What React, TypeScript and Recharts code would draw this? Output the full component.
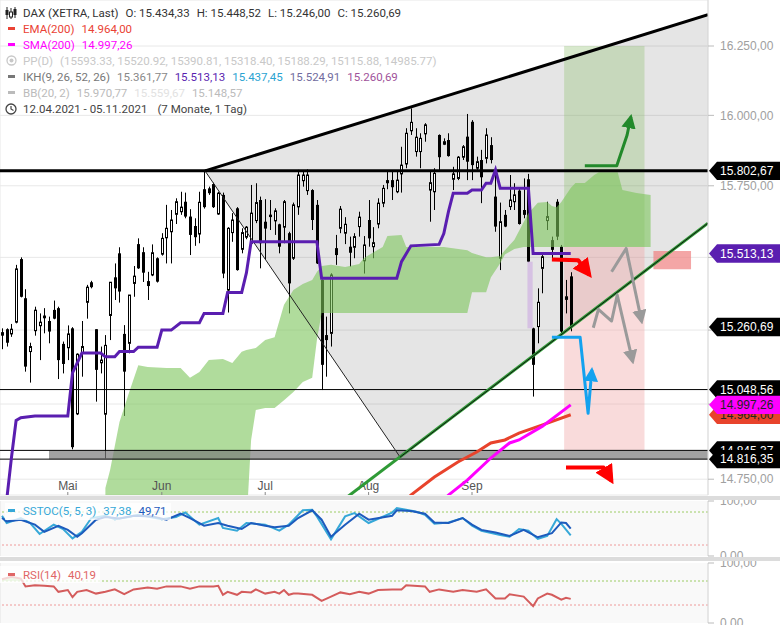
import React from 'react';
import {
  ComposedChart, LineChart, Line, Bar, Area, XAxis, YAxis, CartesianGrid, ReferenceLine, ReferenceArea,
} from 'recharts';

// ---------------- axes ----------------
const X_DOMAIN: [number, number] = [-0.4255, 150.21];
const Y_DOMAIN: [number, number] = [14698, 16418];
const yTicks = [14750, 15000, 15250, 15500, 15750, 16000, 16250];
// tick labels that sit fully behind a price badge in the reference
const coveredTickLabels = [15000, 15250, 15500];
const monthTicks = [14, 34, 56, 78, 100];
const monthLabels = ['Mai', 'Jun', 'Jul', 'Aug', 'Sep'];

// ---------------- candles (trading-day index 0..121) ----------------
const opens = [
  15243, 15253, 15237, 15277, 15494, 15359, 15177, 15248, 15265, 15292,
  15281, 15319, 15325, 15203, 15190, 15256, 14967, 15171, 15345, 15414,
  15253, 15139, 14966, 15300, 15431, 15514, 15237, 15205, 15410, 15546,
  15518, 15418, 15439, 15497, 15511, 15568, 15589, 15650, 15659, 15694,
  15642, 15609, 15581, 15738, 15741, 15756, 15651, 15718, 15387, 15586,
  15671, 15528, 15570, 15549, 15628, 15700, 15624, 15642, 15627, 15615,
  15605, 15584, 15497, 15676, 15768, 15733, 15735, 15683, 15422, 15233,
  15239, 15532, 15601, 15584, 15537, 15535, 15607, 15488, 15630, 15537,
  15616, 15689, 15770, 15770, 15729, 15792, 15827, 15945, 15871, 15871,
  15934, 15735, 15729, 15930, 15897, 15912, 15773, 15776, 15851, 15924,
  15977, 15812, 15841, 15847, 15894, 15712, 15497, 15648, 15677, 15694,
  15733, 15665, 15773, 15256, 15262, 15462, 15628, 15560, 15694, 15537,
  15355, 15434.33,
];
const highs = [
  15256, 15256, 15271, 15474, 15500, 15390, 15207, 15330, 15307, 15325,
  15296, 15351, 15330, 15211, 15266, 15260, 15171, 15281, 15405, 15419,
  15253, 15194, 15233, 15414, 15479, 15535, 15267, 15370, 15470, 15566,
  15535, 15450, 15545, 15500, 15584, 15683, 15665, 15706, 15729, 15726,
  15668, 15636, 15729, 15802.67, 15747, 15761, 15729, 15726, 15605, 15654,
  15675, 15601, 15609, 15753, 15759, 15712, 15703, 15700, 15671, 15617,
  15700, 15589, 15691, 15806, 15803, 15808, 15738, 15700, 15424, 15296,
  15445, 15578, 15679, 15640, 15572, 15584, 15659, 15574, 15700, 15605,
  15706, 15753, 15800, 15800, 15800, 15888, 15954, 16025, 15954, 15936,
  15972, 15800, 15812, 15932, 15918, 15936, 15817, 15855, 15894, 16005,
  15983, 15853, 15877, 15954, 15922, 15817, 15691, 15665, 15788, 15759,
  15741, 15776, 15792, 15258, 15393, 15508, 15694, 15572, 15703, 15543,
  15422, 15448.52,
];
const lows = [
  15185, 15194, 15227, 15273, 15362, 15109, 15072, 15231, 15148, 15239,
  15205, 15287, 15084, 15103, 15148, 14849, 14963, 15092, 15289, 15393,
  15008, 15103, 14819, 15216, 15353, 15344, 14960, 15171, 15364, 15460,
  15415, 15353, 15435, 15413, 15506, 15479, 15479, 15616, 15648, 15636,
  15508, 15540, 15549, 15670, 15718, 15672, 15648, 15428, 15310, 15554,
  15454, 15514, 15563, 15546, 15619, 15462, 15491, 15595, 15578, 15514,
  15549, 15307, 15491, 15648, 15747, 15718, 15595, 15477, 15047, 15092,
  15194, 15474, 15584, 15546, 15468, 15497, 15572, 15444, 15537, 15497,
  15601, 15675, 15738, 15700, 15724, 15726, 15812, 15930, 15853, 15812,
  15906, 15624, 15665, 15806, 15894, 15853, 15735, 15770, 15841, 15770,
  15770, 15806, 15689, 15829, 15829, 15589, 15456, 15605, 15665, 15665,
  15614, 15636, 15482, 15025, 15205, 15376, 15595, 15497, 15560, 15239,
  15307, 15246,
];
const closes = [
  15231, 15207, 15253, 15460, 15364, 15126, 15194, 15318, 15277, 15298,
  15245, 15289, 15148, 15135, 15237, 14856, 15168, 15194, 15397, 15397,
  15115, 15148, 15198, 15414, 15393, 15382, 15109, 15370, 15435, 15462,
  15447, 15401, 15516, 15416, 15566, 15601, 15630, 15694, 15675, 15642,
  15578, 15570, 15692, 15675, 15724, 15675, 15724, 15444, 15601, 15630,
  15456, 15586, 15605, 15654, 15691, 15549, 15600, 15647, 15662, 15537,
  15694, 15410, 15683, 15788, 15788, 15788, 15630, 15479, 15132, 15216,
  15439, 15508, 15668, 15615, 15516, 15572, 15640, 15543, 15566, 15551,
  15689, 15741, 15759, 15745, 15770, 15823, 15936, 15975, 15922, 15918,
  15966, 15761, 15794, 15851, 15906, 15855, 15792, 15851, 15888, 15835,
  15823, 15835, 15780, 15930, 15841, 15607, 15624, 15607, 15700, 15718,
  15616, 15648, 15485, 15132, 15345, 15502, 15642, 15526, 15572, 15245,
  15364, 15260.69,
];

// ---------------- Ichimoku ----------------
const kijunIdx = [1, 2, 3, 4, 7, 14, 15, 17, 21, 22, 24, 25, 28, 29, 33, 34, 36, 38, 42, 43, 47, 48, 51, 52, 53, 67, 68, 84, 85, 87, 93, 94, 95, 96, 99, 100, 102, 103, 104, 105, 106, 112, 113, 121];
const kijunVal = [14682, 14820, 14945, 14954, 14960, 14960, 15105, 15172, 15172, 15159, 15159, 15177, 15177, 15192, 15192, 15250, 15250, 15275, 15275, 15307, 15307, 15379, 15379, 15446, 15554, 15554, 15428, 15428, 15485, 15540, 15545, 15583, 15660, 15724, 15724, 15735, 15735, 15759, 15759, 15806, 15741, 15741, 15513, 15513.13];

const cloudIdx = [22, 23, 25, 27, 29, 31, 35, 38, 40, 42, 44, 47, 49, 51, 52, 53, 54, 56, 58, 60, 62, 64, 66, 67, 68, 70, 73, 76, 77, 81, 82, 85, 86, 94, 99, 100, 103, 104, 106, 107, 109, 111, 112, 114, 116, 117, 118, 119, 121, 122, 124, 126, 127, 131, 132, 135, 138];
const cloudLow = [
  14600, 14600, 14600, 14600, 14600, 14600, 14600, 14600, 14600, 14600, 14600, 14600, 14600, 14600, 14600,
  14880, 14980, 14987, 14987, 15013, 15040, 15074, 15088, 15216, 15308,
  15308, 15308, 15308, 15308, 15308, 15308, 15308, 15308, 15308, 15308,
  15380, 15380, 15430, 15480, 15510, 15529, 15536, 15536, 15536, 15536,
  15536, 15536, 15536, 15536, 15536, 15536, 15536, 15536, 15536, 15536, 15536, 15536,
];
const cloudHigh = [
  14721, 14780, 14940, 15037, 15131, 15125, 15121, 15121, 15088, 15108,
  15148, 15152, 15138, 15176, 15182, 15186, 15189, 15216, 15226, 15337,
  15387, 15408, 15422, 15449, 15470, 15474, 15467, 15477, 15498, 15536,
  15574, 15578, 15536, 15536, 15525, 15515, 15500, 15500, 15505, 15525,
  15560, 15623, 15654, 15690, 15693, 15679, 15675, 15693, 15742, 15760,
  15760, 15788, 15798, 15798, 15735, 15725, 15718,
];

// ---------------- moving averages ----------------
const emaIdx = [85, 87, 92, 97, 101, 104, 107, 110, 115, 121];
const emaVal = [14662, 14698, 14757, 14807, 14840, 14870, 14880, 14903, 14930, 14964.0];
const smaIdx = [93, 95, 99, 104, 108, 110, 115, 121];
const smaVal = [14665, 14698, 14747, 14820, 14870, 14880, 14926, 14997.26];

// ---------------- drawings (index, price) ----------------
const triIdx = [43.2, 84.7, 150.21];
const triLow = [15802.67, 14823, 15619];
const triHigh = [15802.67, 16017.8, 16364];
const upperTrendIdx = [43.2, 150.21];
const upperTrendVal = [15802.67, 16364];
const diagIdx = [43.2, 84.7];
const diagVal = [15802.67, 14823];
const lowerTrendIdx = [72.6, 150.21];
const lowerTrendVal = [14681.6, 15619];
const lowerCoreIdx = [84.7, 150.21];
const lowerCoreVal = [14823, 15619];

const greenArrowIdx = [124.0, 130.8, 133.0, 133.8];
const greenArrowVal = [15821, 15821, 15930, 15995];
const redArrowTopIdx = [117.0, 122.6, 125.0];
const redArrowTopVal = [15493, 15490, 15439];
const redArrowBotIdx = [120.0, 128.0, 129.7];
const redArrowBotVal = [14789, 14789, 14744];
const blueArrowIdx = [117.0, 123.0, 124.7, 125.5];
const blueArrowVal = [15226, 15226, 14969, 15115];
const grayArrowAIdx = [129.7, 132.8, 136.1];
const grayArrowAVal = [15450, 15531, 15279];
const grayArrowBIdx = [125.8, 126.9, 129.7, 130.9, 134.2];
const grayArrowBVal = [15258, 15321, 15281, 15370, 15143];

// boxes: [x1, x2, y1, y2]
const greenBox = [119.6, 136.7, 15537, 16250];
const redBox = [119.6, 136.7, 14845.37, 15537];
const salmonBox = [138.6, 146.6, 15459, 15522];
const gapBox = [111.8, 112.9, 15256, 15485];
const supportBand = [10.0, 150.2, 14816.35, 14845.37];

const hLineValues = [15802.67, 15048.56, 14845.37, 14816.35];
const badgeValues = [15802.67, 15513.13, 15260.69, 15048.56, 14964.0, 14997.26, 14845.37, 14816.35];

// ---------------- indicators ----------------
const stochKIdx = [0, 1, 4, 6, 8, 11, 13, 15, 17, 19, 22, 24, 27, 29, 34, 37, 39, 42, 46, 47, 50, 52, 56, 59, 61, 64, 66, 67, 70, 73, 75, 78, 83, 84, 88, 90, 92, 95, 98, 100, 102, 106, 108, 110, 112, 114, 116, 118, 119, 121];
const stochKVal = [73, 60, 69, 60, 40, 57, 49, 32, 44, 69, 73, 67, 71, 75, 67, 71, 79, 57, 69, 51, 46, 60, 57, 46, 57, 83, 84, 72, 30.5, 72, 78, 60, 79, 87, 81, 75, 58.5, 61, 69, 55, 46, 38, 35, 49, 46, 31, 36.5, 67, 58.5, 37.38];
const stochDIdx = [0, 1, 4, 7, 9, 12, 14, 16, 17, 20, 22, 25, 28, 32, 35, 38, 40, 43, 46, 48, 51, 53, 56, 58, 61, 63, 66, 68, 70, 73, 76, 78, 83, 84, 87, 90, 92, 95, 98, 100, 102, 105, 108, 111, 114, 117, 119, 120, 121];
const stochDVal = [69, 63, 66, 57, 44, 55, 47.5, 35, 41.5, 66, 71, 68, 73, 72, 66, 77, 69, 55, 60, 55, 49, 60, 55, 52.5, 55, 69, 83, 66, 35, 57, 77, 66, 73, 83, 82, 77, 61, 60, 69, 57, 47.5, 42.6, 36.5, 47.5, 34, 41.5, 61, 60, 49.71];
const rsiIdx = [0, 2, 4, 5, 7, 9, 11, 12, 14, 15, 16, 18, 20, 22, 24, 26, 28, 31, 33, 35, 38, 40, 42, 45, 46, 47, 48, 50, 51, 53, 54, 56, 58, 59, 60, 61, 62, 63, 66, 68, 70, 72, 74, 76, 78, 80, 83, 85, 86, 90, 91, 93, 96, 98, 101, 103, 105, 107, 108, 111, 113, 114, 116, 117, 119, 120, 121];
const rsiVal = [73, 77, 74, 61, 63, 62, 61, 52, 55, 43, 52, 55, 49, 52, 56, 48, 56, 59, 57, 61, 61, 57, 61, 61, 62, 47, 52, 47, 52, 51, 56, 49, 52, 49, 55, 47, 49, 49, 47, 37, 44, 51, 48, 52, 49, 55, 56, 56, 63, 61, 52, 56, 52, 55, 52, 56, 41, 41, 48, 44, 28, 41, 49, 47, 39, 42, 40.19];
// overbought zone of the RSI at the left edge (between the 70 level and the line)
const rsiObIdx = [0, 2, 4, 4.2];
const rsiObLow = [70, 70, 70, 70];
const rsiObHigh = [73, 77, 74, 70];

// ---------------- helpers ----------------
const fmt = (v: number) => {
  const [a, b] = v.toFixed(2).split('.');
  return a.replace(/\B(?=(\d{3})+(?!\d))/g, '.') + ',' + b;
};
const pts = (idx: number[], vals: number[]) => idx.map((i, k) => ({ i, v: vals[k] }));
const rangePts = (idx: number[], lo: number[], hi: number[]) => idx.map((i, k) => ({ i, r: [lo[k], hi[k]] }));

const candleData = opens.map((o, i) => ({ i, o, h: highs[i], l: lows[i], c: closes[i] }));
const last = opens.length - 1;

const FONT = '"Liberation Sans", Arial, sans-serif';
const LEG_FONT = 'Roboto, "Liberation Sans", Arial, sans-serif';

function CandleShape(props: any) {
  const { x, y, width, height, payload } = props;
  if (!payload || x == null || y == null) return null;
  const top = Math.min(y, y + height);
  const hh = Math.abs(height);
  const cx = Math.round(x + width / 2) + 0.5;
  const lh = Math.log(payload.h);
  const ll = Math.log(payload.l);
  const span = lh - ll;
  const py = (v: number) => (span === 0 ? top : top + (hh * (lh - Math.log(v))) / span);
  const yo = py(payload.o);
  const yc = py(payload.c);
  const up = payload.c >= payload.o;
  const bTop = Math.min(yo, yc);
  const bH = Math.max(Math.abs(yo - yc), 1);
  return (
    <g>
      <line x1={cx} x2={cx} y1={top} y2={top + hh} stroke="#000" strokeWidth={1} />
      {up ? (
        <rect x={cx - 1} y={bTop} width={2} height={bH} fill="#fff" stroke="#000" strokeWidth={1} />
      ) : (
        <rect x={cx - 1.5} y={bTop} width={3} height={bH} fill="#000" />
      )}
    </g>
  );
}

function PriceTick(props: any) {
  const { x, y, payload } = props;
  if (!payload || coveredTickLabels.includes(payload.value)) return null;
  return (
    <text x={x} y={y} dy="0.355em" textAnchor="start" fill="#a0a0a0" fontSize={12} fontFamily={FONT}>
      {fmt(payload.value)}
    </text>
  );
}

function Badge(props: any) {
  const vb = props.viewBox || {};
  const y = (vb.y || 0) + (vb.height || 0) / 2;
  const x0 = (vb.x || 0) + (vb.width || 0);
  return (
    <g>
      <path d={`M${x0 + 1},${y} L${x0 + 9},${y - 9.2} L780,${y - 9.2} L780,${y + 9.2} L${x0 + 9},${y + 9.2} Z`} fill={props.bg} />
      <text x={x0 + 12} y={y + 4.3} fill={props.fg} fontSize={12} fontFamily={FONT}>{props.text}</text>
    </g>
  );
}

function MonthLabel(props: any) {
  const vb = props.viewBox || {};
  const x = vb.x || 0;
  const bottom = (vb.y || 0) + (vb.height || 0);
  return (
    <g>
      <text x={x} y={bottom - 5} textAnchor="middle" fill="#555" fontSize={12} fontFamily={FONT}>{props.text}</text>
      <line x1={x} x2={x} y1={bottom - 3} y2={bottom} stroke="#888" strokeWidth={1} />
    </g>
  );
}

const badgeStyles = [
  { bg: '#000', fg: '#fff' },
  { bg: '#5a1eb0', fg: '#fff' },
  { bg: '#000', fg: '#fff' },
  { bg: '#000', fg: '#fff' },
  { bg: '#e8432c', fg: '#222' },
  { bg: '#ff00ff', fg: '#222' },
  { bg: '#000', fg: '#fff' },
  { bg: '#000', fg: '#fff' },
];
const hLineWidths = [3, 1, 1, 1];

const arrowDefs = [
  { id: 'ahGreen', color: '#22892a' },
  { id: 'ahRed', color: '#ff0000' },
  { id: 'ahBlue', color: '#14a2ef' },
  { id: 'ahGray', color: '#9a9a9a' },
];

const lineCommon = { dot: false, activeDot: false, isAnimationActive: false, legendType: 'none' as const };

function Dash({ color }: { color: string }) {
  return <span style={{ display: 'inline-block', width: 7, height: 3, background: color, marginRight: 8, verticalAlign: 'middle', position: 'relative', top: -1 }} />;
}

export default function App() {
  const rowStyle = (top: number): React.CSSProperties => ({
    position: 'absolute', left: 8, top, height: 16, lineHeight: '16px', whiteSpace: 'nowrap', fontSize: 11.5, fontFamily: LEG_FONT,
  });
  const gap = { marginLeft: 7 };
  const subY = {
    orientation: 'right' as const, width: 72, domain: [0, 100] as [number, number], ticks: [0, 100], interval: 0 as const,
    tickFormatter: fmt, tick: { fill: '#a0a0a0', fontSize: 12 }, tickLine: { stroke: '#bbb' }, axisLine: { stroke: '#ddd' },
    tickSize: 6, tickMargin: 6,
  };
  return (
    <div style={{ position: 'absolute', left: 0, top: 0, width: 780, height: 625, overflow: 'hidden', background: '#fff', fontFamily: FONT }}>
      {/* main price panel */}
      <div style={{ position: 'absolute', left: 0, top: 0 }}>
        <ComposedChart width={780} height={496} data={candleData} margin={{ top: 0, right: 0, bottom: 0, left: 0 }}>
          <defs>
            {arrowDefs.map((a) => (
              <marker key={a.id} id={a.id} viewBox="0 0 10 10" refX="8" refY="5" markerWidth="4.8" markerHeight="4.8" orient="auto" markerUnits="strokeWidth">
                <path d="M0,0 L10,5 L0,10 z" fill={a.color} />
              </marker>
            ))}
          </defs>
          <CartesianGrid stroke="#e8e8e8" />
          <XAxis type="number" dataKey="i" domain={X_DOMAIN} allowDataOverflow ticks={monthTicks} tick={false} tickLine={false} axisLine={false} height={1} />
          <YAxis
            orientation="right" width={72} scale="log" domain={Y_DOMAIN} allowDataOverflow ticks={yTicks} interval={0}
            tick={<PriceTick />} tickLine={{ stroke: '#bbb' }}
            axisLine={{ stroke: '#ddd' }} tickSize={6} tickMargin={6}
          />
          <Area data={rangePts(triIdx, triLow, triHigh)} dataKey="r" type="linear" stroke="none" fill="#000" fillOpacity={0.1} zIndex={10} {...lineCommon} />
          <ReferenceArea x1={greenBox[0]} x2={greenBox[1]} y1={greenBox[2]} y2={greenBox[3]} fill="#8fc070" fillOpacity={0.35} stroke="none" zIndex={20} />
          <ReferenceArea x1={redBox[0]} x2={redBox[1]} y1={redBox[2]} y2={redBox[3]} fill="#f0a0a0" fillOpacity={0.38} stroke="none" zIndex={20} />
          <Bar dataKey={(d: any) => [d.l, d.h]} shape={(p: any) => <CandleShape {...p} />} barSize={3} isAnimationActive={false} zIndex={30} legendType="none" />
          <ReferenceArea x1={gapBox[0]} x2={gapBox[1]} y1={gapBox[2]} y2={gapBox[3]} fill="#d4bde2" fillOpacity={0.9} stroke="none" zIndex={35} />
          <Area data={rangePts(cloudIdx, cloudLow, cloudHigh)} dataKey="r" type="linear" stroke="none" fill="#7cc45a" fillOpacity={0.6} zIndex={40} {...lineCommon} />
          <ReferenceArea x1={salmonBox[0]} x2={salmonBox[1]} y1={salmonBox[2]} y2={salmonBox[3]} fill="#f08080" fillOpacity={0.7} stroke="none" zIndex={45} />
          <ReferenceArea x1={supportBand[0]} x2={supportBand[1]} y1={supportBand[2]} y2={supportBand[3]} fill="#7a7a7a" fillOpacity={0.7} stroke="none" zIndex={50} />
          {hLineValues.map((v, k) => (
            <ReferenceLine key={'h' + k} y={v} stroke="#000" strokeWidth={hLineWidths[k]} zIndex={60} />
          ))}
          {monthTicks.map((m, k) => (
            <ReferenceLine key={'m' + k} x={m} stroke="none" label={<MonthLabel text={monthLabels[k]} />} zIndex={60} />
          ))}
          <Line data={pts(diagIdx, diagVal)} dataKey="v" stroke="#222" strokeWidth={1} zIndex={70} {...lineCommon} />
          <Line data={pts(upperTrendIdx, upperTrendVal)} dataKey="v" stroke="#000" strokeWidth={3} zIndex={70} {...lineCommon} />
          <Line data={pts(lowerTrendIdx, lowerTrendVal)} dataKey="v" stroke="#2f9a36" strokeWidth={3} zIndex={70} {...lineCommon} />
          <Line data={pts(lowerCoreIdx, lowerCoreVal)} dataKey="v" stroke="#111" strokeWidth={1} zIndex={71} {...lineCommon} />
          <Line data={pts(kijunIdx, kijunVal)} dataKey="v" stroke="#5a1eb0" strokeWidth={3} zIndex={72} {...lineCommon} />
          <Line data={pts(emaIdx, emaVal)} dataKey="v" stroke="#e8432c" strokeWidth={3} zIndex={72} {...lineCommon} />
          <Line data={pts(smaIdx, smaVal)} dataKey="v" stroke="#ff00ff" strokeWidth={3} zIndex={72} {...lineCommon} />
          <Line data={pts(greenArrowIdx, greenArrowVal)} dataKey="v" stroke="#22892a" strokeWidth={3} strokeLinejoin="round" markerEnd="url(#ahGreen)" zIndex={73} {...lineCommon} />
          <Line data={pts(redArrowTopIdx, redArrowTopVal)} dataKey="v" stroke="#ff0000" strokeWidth={4} strokeLinejoin="round" markerEnd="url(#ahRed)" zIndex={73} {...lineCommon} />
          <Line data={pts(redArrowBotIdx, redArrowBotVal)} dataKey="v" stroke="#ff0000" strokeWidth={4} strokeLinejoin="round" markerEnd="url(#ahRed)" zIndex={73} {...lineCommon} />
          <Line data={pts(blueArrowIdx, blueArrowVal)} dataKey="v" stroke="#14a2ef" strokeWidth={3} strokeLinejoin="round" markerEnd="url(#ahBlue)" zIndex={73} {...lineCommon} />
          <Line data={pts(grayArrowAIdx, grayArrowAVal)} dataKey="v" stroke="#9a9a9a" strokeWidth={3} strokeLinejoin="round" markerEnd="url(#ahGray)" zIndex={73} {...lineCommon} />
          <Line data={pts(grayArrowBIdx, grayArrowBVal)} dataKey="v" stroke="#9a9a9a" strokeWidth={3} strokeLinejoin="round" markerEnd="url(#ahGray)" zIndex={73} {...lineCommon} />
          {badgeValues.map((v, k) => (
            <ReferenceLine key={'b' + k} y={v} stroke="none" zIndex={2500 + k}
              label={<Badge text={fmt(v)} bg={badgeStyles[k].bg} fg={badgeStyles[k].fg} />} />
          ))}
        </ComposedChart>
      </div>

      {/* SSTOC panel */}
      <div style={{ position: 'absolute', left: 0, top: 500 }}>
        <LineChart width={780} height={57} margin={{ top: 1, right: 0, bottom: 1, left: 0 }}>
          <CartesianGrid horizontal={false} stroke="#e4e4e4" fill="#f9f9f9" />
          <XAxis type="number" dataKey="i" domain={X_DOMAIN} allowDataOverflow ticks={monthTicks} tick={false} tickLine={false} axisLine={false} height={0} />
          <YAxis {...subY} />
          <ReferenceLine y={80} stroke="#9ccc65" strokeDasharray="2 2" />
          <ReferenceLine y={20} stroke="#ef9a9a" strokeDasharray="2 2" />
          <Line data={pts(stochKIdx, stochKVal)} dataKey="v" stroke="#36a8d8" strokeWidth={2} {...lineCommon} />
          <Line data={pts(stochDIdx, stochDVal)} dataKey="v" stroke="#1d5bbd" strokeWidth={2} {...lineCommon} />
        </LineChart>
      </div>

      {/* RSI panel */}
      <div style={{ position: 'absolute', left: 0, top: 561 }}>
        <ComposedChart width={780} height={64} margin={{ top: 2, right: 0, bottom: 2, left: 0 }}>
          <CartesianGrid horizontal={false} stroke="#e4e4e4" fill="#f9f9f9" />
          <XAxis type="number" dataKey="i" domain={X_DOMAIN} allowDataOverflow ticks={monthTicks} tick={false} tickLine={false} axisLine={false} height={0} />
          <YAxis {...subY} />
          <Area data={rangePts(rsiObIdx, rsiObLow, rsiObHigh)} dataKey="r" type="linear" stroke="none" fill="#a5d88a" fillOpacity={0.7} {...lineCommon} />
          <ReferenceLine y={70} stroke="#9ccc65" strokeDasharray="2 2" />
          <ReferenceLine y={30} stroke="#ef9a9a" strokeDasharray="2 2" />
          <Line data={pts(rsiIdx, rsiVal)} dataKey="v" stroke="#d45c5c" strokeWidth={2} {...lineCommon} />
        </ComposedChart>
      </div>

      {/* separators */}
      <div style={{ position: 'absolute', left: 0, top: 496, width: 780, height: 4, background: '#dcdcdc' }} />
      <div style={{ position: 'absolute', left: 0, top: 557, width: 780, height: 4, background: '#dcdcdc' }} />

      {/* main legend */}
      <div style={{ position: 'absolute', left: 0, top: 0, width: 420, height: 118, color: '#333' }}>
        <div style={{ ...rowStyle(5), left: 5 }}>
          <svg width={12} height={12} style={{ verticalAlign: 'middle', marginRight: 6, position: 'relative', top: -1 }}>
            <line x1={2} x2={2} y1={0} y2={12} stroke="#222" /><rect x={0.5} y={3} width={3} height={5} fill="#222" />
            <line x1={6} x2={6} y1={1} y2={12} stroke="#222" /><rect x={4.5} y={5} width={3} height={5} fill="#fff" stroke="#222" />
            <line x1={10} x2={10} y1={0} y2={11} stroke="#222" /><rect x={8.5} y={2} width={3} height={6} fill="#222" />
          </svg>
          <span>DAX (XETRA, Last)</span>
          <span style={gap}>O: {fmt(opens[last])}</span>
          <span style={gap}>H: {fmt(highs[last])}</span>
          <span style={gap}>L: {fmt(lows[last])}</span>
          <span style={gap}>C: {fmt(closes[last])}</span>
        </div>
        <div style={{ ...rowStyle(21), color: '#ea4335' }}>
          <Dash color="#ea4335" />EMA(200)<span style={gap}>{fmt(emaVal[emaVal.length - 1])}</span>
        </div>
        <div style={{ ...rowStyle(37), color: '#ff00ff' }}>
          <Dash color="#ff00ff" />SMA(200)<span style={gap}>{fmt(smaVal[smaVal.length - 1])}</span>
        </div>
        <div style={{ ...rowStyle(53), color: '#c8c8c8', left: 6 }}>
          <svg width={11} height={11} style={{ verticalAlign: 'middle', marginRight: 6, position: 'relative', top: -1 }}>
            <circle cx={5.5} cy={5.5} r={4.5} fill="none" stroke="#c8c8c8" strokeWidth={1.3} />
            <circle cx={5.5} cy={5.5} r={2} fill="#c8c8c8" />
          </svg>
          PP(D)<span style={gap}>(15593.33, 15520.92, 15390.81, 15318.40, 15188.29, 15115.88, 14985.77)</span>
        </div>
        <div style={{ ...rowStyle(69), color: '#777' }}>
          <Dash color="#777" />IKH(9, 26, 52, 26)
          <span style={{ ...gap, color: '#888' }}>15.361,77</span>
          <span style={{ ...gap, color: '#5a1eb0' }}>{fmt(kijunVal[kijunVal.length - 1])}</span>
          <span style={{ ...gap, color: '#2aa3d2' }}>15.437,45</span>
          <span style={{ ...gap, color: '#716b9e' }}>15.524,91</span>
          <span style={{ ...gap, color: '#a0529a' }}>15.260,69</span>
        </div>
        <div style={{ ...rowStyle(85), color: '#bbb' }}>
          <Dash color="#bbb" />BB(20, 2)
          <span style={gap}>15.970,77</span>
          <span style={{ ...gap, color: '#e2e2e2' }}>15.559,67</span>
          <span style={gap}>15.148,57</span>
        </div>
        <div style={{ ...rowStyle(101), left: 5, color: '#444' }}>
          <svg width={12} height={12} style={{ verticalAlign: 'middle', marginRight: 6, position: 'relative', top: -1 }}>
            <circle cx={6} cy={6} r={5} fill="none" stroke="#444" strokeWidth={1.3} />
            <path d="M6,3 L6,6 L8.5,7.5" fill="none" stroke="#444" strokeWidth={1.2} />
          </svg>
          12.04.2021 - 05.11.2021<span style={{ marginLeft: 10 }}>(7 Monate, 1 Tag)</span>
        </div>
      </div>

      {/* SSTOC legend */}
      <div style={{ position: 'absolute', left: 5, top: 503, width: 166, height: 17, background: 'rgba(255,255,255,0.75)' }} />
      <div style={{ ...rowStyle(503), color: '#36a8d8' }}>
        <Dash color="#36a8d8" />SSTOC(5, 5, 3)
        <span style={gap}>{fmt(stochKVal[stochKVal.length - 1])}</span>
        <span style={{ ...gap, color: '#1d5bbd' }}>{fmt(stochDVal[stochDVal.length - 1])}</span>
      </div>

      {/* RSI legend */}
      <div style={{ position: 'absolute', left: 0, top: 566, width: 100, height: 17, background: 'rgba(255,255,255,0.75)' }} />
      <div style={{ ...rowStyle(567), color: '#e06666' }}>
        <Dash color="#e06666" />RSI(14)<span style={gap}>{fmt(rsiVal[rsiVal.length - 1])}</span>
      </div>
    </div>
  );
}
